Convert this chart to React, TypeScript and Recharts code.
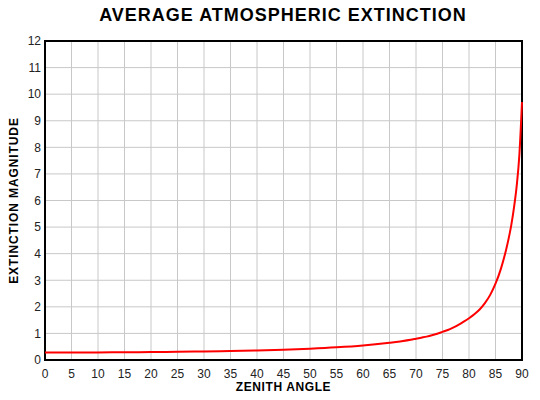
import React from "react";
import { LineChart, Line, XAxis, YAxis, CartesianGrid, ReferenceArea, Label } from "recharts";

const zenithAngles = [0, 5, 10, 15, 20, 25, 30, 35, 40, 45, 50, 55, 60, 65, 67, 69, 70, 71, 72, 73, 74, 75, 76, 77, 78, 79, 80, 81, 82, 83, 84, 85, 86, 87, 88, 88.5, 89, 89.5, 90];
const extinction = [0.28, 0.281, 0.284, 0.29, 0.298, 0.309, 0.322, 0.34, 0.361, 0.388, 0.425, 0.475, 0.545, 0.65, 0.7, 0.76, 0.8, 0.84, 0.88, 0.93, 0.99, 1.06, 1.13, 1.22, 1.32, 1.44, 1.57, 1.72, 1.9, 2.14, 2.45, 2.87, 3.42, 4.15, 5.1, 5.75, 6.55, 7.7, 9.7];
const xTicks = [0, 5, 10, 15, 20, 25, 30, 35, 40, 45, 50, 55, 60, 65, 70, 75, 80, 85, 90];
const yTicks = [0, 1, 2, 3, 4, 5, 6, 7, 8, 9, 10, 11, 12];

const data = zenithAngles.map((z, i) => ({ z, e: extinction[i] }));

const font = "'Liberation Sans', Arial, sans-serif";

export default function App() {
  return (
    <div style={{ position: "absolute", left: 0, top: 0, width: 540, height: 400, background: "#fff", fontFamily: font }}>
      <div
        style={{
          position: "absolute",
          left: 0,
          top: 4,
          width: 566,
          textAlign: "center",
          fontSize: 18,
          letterSpacing: 1,
          fontWeight: "bold",
          color: "#000",
          lineHeight: "22px",
        }}
      >
        AVERAGE ATMOSPHERIC EXTINCTION
      </div>
      <LineChart width={540} height={400} data={data} margin={{ top: 41, right: 18, bottom: 4, left: 0 }}>
        <CartesianGrid stroke="#c8c8c8" strokeWidth={1} />
        <XAxis
          dataKey="z"
          type="number"
          domain={[0, 90]}
          ticks={xTicks}
          interval={0}
          tickLine={false}
          tickSize={0}
          tickMargin={9}
          axisLine={false}
          height={36}
          tick={{ fill: "#222", fontSize: 12, fontFamily: font }}
        >
          <Label
            value="ZENITH ANGLE"
            position="insideBottom"
            offset={5}
            style={{ fontWeight: "bold", fontSize: 12, letterSpacing: 0.6, fill: "#000", fontFamily: font }}
          />
        </XAxis>
        <YAxis
          type="number"
          domain={[0, 12]}
          ticks={yTicks}
          interval={0}
          tickLine={false}
          tickSize={0}
          tickMargin={4}
          axisLine={false}
          width={45}
          tick={{ fill: "#222", fontSize: 12, fontFamily: font }}
        >
          <Label
            value="EXTINCTION MAGNITUDE"
            angle={-90}
            position="insideLeft"
            offset={14}
            style={{ textAnchor: "middle", fontWeight: "bold", fontSize: 12, letterSpacing: 0.9, fill: "#000", fontFamily: font }}
          />
        </YAxis>
        <ReferenceArea x1={0} x2={90} y1={0} y2={12} fill="none" stroke="#000" strokeWidth={2} ifOverflow="extendDomain" />
        <Line dataKey="e" type="monotone" stroke="#ff0000" strokeWidth={2} dot={false} isAnimationActive={false} />
      </LineChart>
    </div>
  );
}
